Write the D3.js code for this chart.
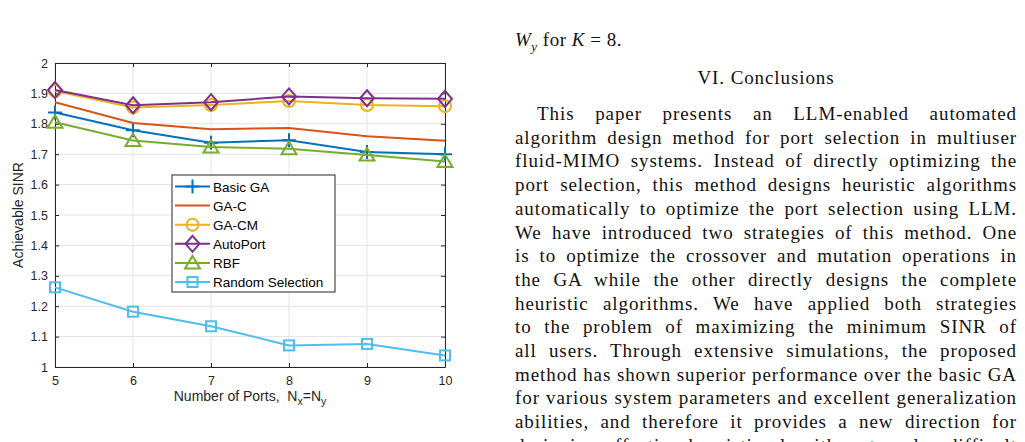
<!DOCTYPE html>
<html>
<head>
<meta charset="utf-8">
<script src="https://cdn.jsdelivr.net/npm/d3@7/dist/d3.min.js"></script>
<style>
  body { margin: 0; background: #fff; width: 1025px; height: 442px; overflow: hidden; position: relative; }
  #chart { position: absolute; left: 0; top: 0; }
  .txt { position: absolute; font-family: "Liberation Serif", "Times New Roman", serif; font-size: 19px; color: #111; white-space: nowrap; }
  .jl { text-align: justify; text-align-last: justify; width: 502px; left: 515px; }
</style>
</head>
<body>
<svg id="chart" width="1025" height="442"></svg>
<div id="col"></div>
<script>
// data
const ports = [5, 6, 7, 8, 9, 10]
const basicGA = [1.837, 1.779, 1.738, 1.746, 1.707, 1.700]
const gaC = [1.871, 1.803, 1.782, 1.786, 1.759, 1.744]
const gaCM = [1.908, 1.854, 1.862, 1.875, 1.862, 1.858]
const autoPort = [1.911, 1.861, 1.871, 1.890, 1.884, 1.882]
const rbf = [1.805, 1.745, 1.724, 1.718, 1.697, 1.676]
const randomSel = [1.262, 1.182, 1.134, 1.071, 1.076, 1.038]
const seriesNames = ['Basic GA', 'GA-C', 'GA-CM', 'AutoPort', 'RBF', 'Random Selection']
const yTicks = [1, 1.1, 1.2, 1.3, 1.4, 1.5, 1.6, 1.7, 1.8, 1.9, 2]

const conclusionLines = [
  'This paper presents an LLM-enabled automated',
  'algorithm design method for port selection in multiuser',
  'fluid-MIMO systems. Instead of directly optimizing the',
  'port selection, this method designs heuristic algorithms',
  'automatically to optimize the port selection using LLM.',
  'We have introduced two strategies of this method. One',
  'is to optimize the crossover and mutation operations in',
  'the GA while the other directly designs the complete',
  'heuristic algorithms. We have applied both strategies',
  'to the problem of maximizing the minimum SINR of',
  'all users. Through extensive simulations, the proposed',
  'method has shown superior performance over the basic GA',
  'for various system parameters and excellent generalization',
  'abilities, and therefore it provides a new direction for',
  'designing effective heuristic algorithms to solve difficult'
]

const series = [
  { name: seriesNames[0], values: basicGA, color: '#0072BD', marker: 'plus' },
  { name: seriesNames[1], values: gaC, color: '#D95319', marker: 'none' },
  { name: seriesNames[2], values: gaCM, color: '#EDB120', marker: 'circle' },
  { name: seriesNames[3], values: autoPort, color: '#7E2F8E', marker: 'diamond' },
  { name: seriesNames[4], values: rbf, color: '#77AC30', marker: 'triangle' },
  { name: seriesNames[5], values: randomSel, color: '#4DBEEE', marker: 'square' }
]

const x = d3.scaleLinear().domain([5, 10]).range([55, 445])
const y = d3.scaleLinear().domain([1, 2]).range([367, 63])
const axisColor = '#262626'
const font = '"Liberation Sans", Arial, Helvetica, sans-serif'

const svg = d3.select('#chart')
const g = svg.append('g')

// grid
g.selectAll('.gx').data(ports).enter().append('line')
  .attr('x1', d => x(d)).attr('x2', d => x(d))
  .attr('y1', y(1)).attr('y2', y(2))
  .attr('stroke', '#e3e3e3').attr('stroke-width', 1)
g.selectAll('.gy').data(yTicks).enter().append('line')
  .attr('x1', x(5)).attr('x2', x(10))
  .attr('y1', d => y(d)).attr('y2', d => y(d))
  .attr('stroke', '#e3e3e3').attr('stroke-width', 1)

// axes (box on, ticks inward)
const xAxis = d3.axisBottom(x).tickValues(ports).tickSizeInner(-4).tickSizeOuter(0).tickPadding(9).tickFormat(d3.format('d'))
const yAxis = d3.axisLeft(y).tickValues(yTicks).tickSizeInner(-4).tickSizeOuter(0).tickPadding(7).tickFormat(d => d === 1 || d === 2 ? d : d.toFixed(1))
const xTop = d3.axisTop(x).tickValues(ports).tickSizeInner(-4).tickSizeOuter(0).tickFormat('')
const yRight = d3.axisRight(y).tickValues(yTicks).tickSizeInner(-4).tickSizeOuter(0).tickFormat('')

function styleAxis (sel) {
  sel.selectAll('path').attr('stroke', axisColor).attr('stroke-width', 1)
  sel.selectAll('line').attr('stroke', axisColor).attr('stroke-width', 1)
  sel.selectAll('text').attr('fill', axisColor).style('font-family', font).style('font-size', '12.5px')
}
g.append('g').attr('transform', `translate(0,${y(1)})`).call(xAxis).call(styleAxis)
g.append('g').attr('transform', `translate(${x(5)},0)`).call(yAxis).call(styleAxis)
g.append('g').attr('transform', `translate(0,${y(2)})`).call(xTop).call(styleAxis)
g.append('g').attr('transform', `translate(${x(10)},0)`).call(yRight).call(styleAxis)

// axis labels
g.append('text')
  .attr('transform', `translate(23,${(y(1) + y(2)) / 2}) rotate(-90)`)
  .attr('text-anchor', 'middle')
  .style('font-family', font).style('font-size', '14px').attr('fill', axisColor)
  .text('Achievable SINR')

const xl = g.append('text')
  .attr('x', (x(5) + x(10)) / 2).attr('y', 401)
  .attr('text-anchor', 'middle')
  .style('font-family', font).style('font-size', '14px').attr('fill', axisColor)
xl.append('tspan').text('Number of Ports,\u00a0\u00a0N')
xl.append('tspan').attr('dy', 4).style('font-size', '10.5px').text('x')
xl.append('tspan').attr('dy', -4).text('=N')
xl.append('tspan').attr('dy', 4).style('font-size', '10.5px').text('y')

// markers
function drawMarker (sel, type, color) {
  sel.each(function (d) {
    const m = d3.select(this)
    if (type === 'plus') {
      m.append('path').attr('d', 'M-7,0H7M0,-7V7')
    } else if (type === 'circle') {
      m.append('circle').attr('r', 6)
    } else if (type === 'diamond') {
      m.append('path').attr('d', 'M0,-8L7,0L0,8L-7,0Z')
    } else if (type === 'triangle') {
      m.append('path').attr('d', 'M0,-7L7.5,5.5L-7.5,5.5Z')
    } else if (type === 'square') {
      m.append('rect').attr('x', -5).attr('y', -5).attr('width', 10).attr('height', 10)
    }
    m.selectAll('*').attr('fill', 'none').attr('stroke', color).attr('stroke-width', 2)
  })
}

const line = d3.line().x((d, i) => x(ports[i])).y(d => y(d))

series.forEach(s => {
  g.append('path').datum(s.values)
    .attr('d', line)
    .attr('fill', 'none').attr('stroke', s.color).attr('stroke-width', 2)
  g.selectAll(null).data(s.values).enter().append('g')
    .attr('transform', (d, i) => `translate(${x(ports[i])},${y(d)})`)
    .call(drawMarker, s.marker, s.color)
})

// legend
const leg = g.append('g').attr('transform', 'translate(172,175)')
leg.append('rect').attr('width', 163).attr('height', 117)
  .attr('fill', '#fff').attr('stroke', axisColor).attr('stroke-width', 1)
series.forEach((s, i) => {
  const row = leg.append('g').attr('transform', `translate(0,${11.5 + i * 19.1})`)
  row.append('line').attr('x1', 3).attr('x2', 38).attr('y1', 0).attr('y2', 0)
    .attr('stroke', s.color).attr('stroke-width', 2)
  row.append('g').datum(0).attr('transform', 'translate(20.5,0)').call(drawMarker, s.marker, s.color)
  row.append('text').attr('x', 41).attr('y', 5)
    .style('font-family', font).style('font-size', '13.5px').attr('fill', '#000')
    .text(s.name)
})

// right column of the page
const col = d3.select('#col')
col.append('div').attr('class', 'txt').style('left', '515px').style('top', '29px').style('letter-spacing', '0.5px')
  .html('<i>W<sub style="font-size:13px">y</sub></i> for <i>K</i> = 8.')
col.append('div').attr('class', 'txt').style('left', '515px').style('width', '502px')
  .style('text-align', 'center').style('top', '67px').style('letter-spacing', '0.9px')
  .text('VI. Conclusions')

// widen the serif a little to approach the look of Computer Modern,
// keeping the tightest line inside the column
const probe = col.append('span').attr('class', 'txt').style('visibility', 'hidden')
let ls = 1.2
conclusionLines.forEach((t, i) => {
  probe.text(t)
  const w = probe.node().getBoundingClientRect().width
  const avail = i === 0 ? 480 : 502
  ls = Math.min(ls, (avail - w) / t.length)
})
probe.remove()
ls = Math.max(0, ls)

conclusionLines.forEach((t, i) => {
  const d = col.append('div').attr('class', 'txt jl')
    .style('top', (120 + i * 23.7 - 17) + 'px')
    .style('letter-spacing', ls + 'px')
    .text(t)
  if (i === 0) d.style('left', '537px').style('width', '480px')
})
</script>
</body>
</html>
